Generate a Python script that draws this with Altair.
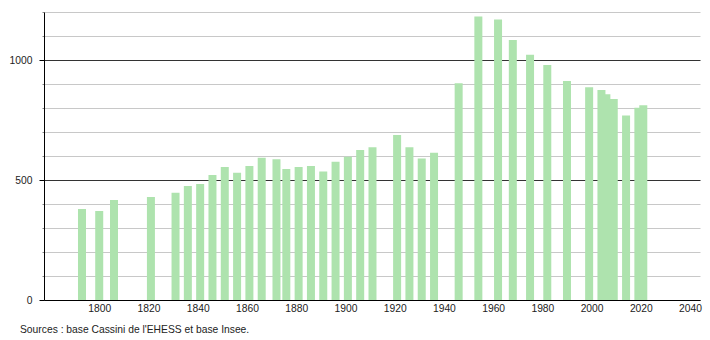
import altair as alt
import pandas as pd

years = [1793, 1800, 1806, 1821, 1831, 1836, 1841, 1846, 1851, 1856,
         1861, 1866, 1872, 1876, 1881, 1886, 1891, 1896, 1901, 1906,
         1911, 1921, 1926, 1931, 1936, 1946, 1954, 1962, 1968, 1975,
         1982, 1990, 1999, 2004, 2006, 2009, 2014, 2019, 2021]
population = [379, 371, 417, 429, 447, 475, 483, 521, 554, 530,
              558, 593, 586, 546, 554, 558, 535, 576, 597, 625,
              636, 687, 636, 590, 614, 903, 1181, 1169, 1083, 1022,
              979, 912, 886, 875, 857, 837, 769, 801, 811]
x_ticks = [1800, 1820, 1840, 1860, 1880, 1900, 1920, 1940, 1960, 1980, 2000, 2020, 2040]
y_ticks = list(range(0, 1201, 100))
source_text = "Sources : base Cassini de l'EHESS et base Insee."

df = pd.DataFrame({"year": years, "pop": population})

bars = alt.Chart(df).mark_bar(size=8, color="#aee3ae").encode(
    x=alt.X("year:Q", scale=alt.Scale(domain=[1779.6, 2042], nice=False, zero=False),
            axis=alt.Axis(values=x_ticks, title=None, format="d", grid=False,
                          ticks=False, domainColor="#000", domainWidth=1,
                          labelFont="Liberation Sans", labelFontSize=10.3,
                          labelColor="#222", labelPadding=3, labelFlush=False)),
    y=alt.Y("pop:Q", scale=alt.Scale(domain=[0, 1200], nice=False),
            axis=alt.Axis(values=y_ticks, title=None,
                          labelExpr="datum.value % 500 === 0 ? datum.value : ''",
                          gridColor=alt.condition("datum.value % 500 === 0", alt.value("#333333"), alt.value("#c8c8c8")),
                          tickColor=alt.condition("datum.value % 500 === 0", alt.value("#000000"), alt.value("#888888")),
                          tickSize=alt.condition("datum.value % 500 === 0", alt.value(5), alt.value(2)),
                          domainColor="#000", domainWidth=1,
                          labelFont="Liberation Sans", labelFontSize=10.3,
                          labelColor="#222", labelPadding=7)),
)

note = alt.Chart(pd.DataFrame({"t": [source_text]})).mark_text(
    align="left", baseline="middle", font="Liberation Sans", fontSize=10.3, color="#222"
).encode(x=alt.value(-24), y=alt.value(318), text="t:N")

chart = alt.layer(bars, note).properties(
    width=656, height=288,
    autosize=alt.AutoSizeParams(type="none"),
    padding={"left": 44, "top": 12, "right": 10, "bottom": 40},
).configure_view(stroke=None)

chart.save("out.html", embed_options={"renderer": "svg", "actions": False})
